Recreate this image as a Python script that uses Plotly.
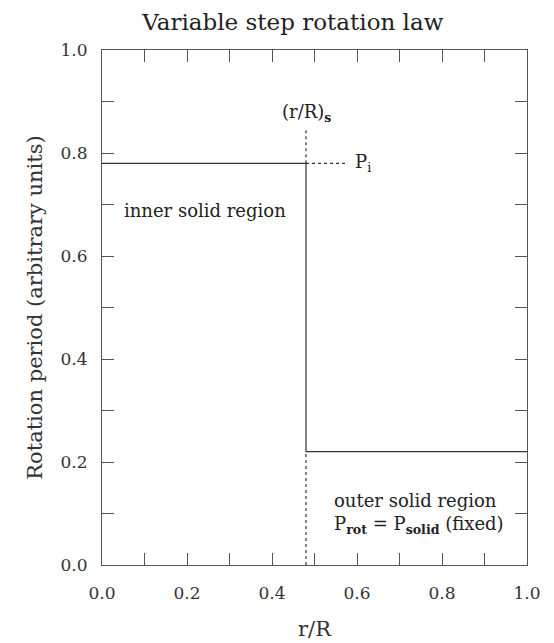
import plotly.graph_objects as go

# data
step_r = [0.0, 0.48, 0.48, 1.0]
step_period = [0.78, 0.78, 0.22, 0.22]
r_s = 0.48
p_inner = 0.78
p_outer = 0.22
guide_top = 0.85
pi_guide_end = 0.575
tick_vals = [round(i * 0.1, 1) for i in range(11)]
tick_text = ["0.0", "", "0.2", "", "0.4", "", "0.6", "", "0.8", "", "1.0"]

FONT = "DejaVu Serif"
LINE = "#333333"
FRAME = "#555555"

fig = go.Figure()
fig.add_trace(go.Scatter(x=step_r, y=step_period, mode="lines",
                         line=dict(color=LINE, width=1.2), showlegend=False, hoverinfo="skip"))
# dotted guides
fig.add_trace(go.Scatter(x=[r_s, r_s], y=[0.0, p_outer], mode="lines",
                         line=dict(color=LINE, width=1.2, dash="dot"), showlegend=False))
fig.add_trace(go.Scatter(x=[r_s, r_s], y=[p_inner, guide_top], mode="lines",
                         line=dict(color=LINE, width=1.2, dash="dot"), showlegend=False))
fig.add_trace(go.Scatter(x=[r_s, pi_guide_end], y=[p_inner, p_inner], mode="lines",
                         line=dict(color=LINE, width=1.2, dash="dot"), showlegend=False))

ann_font = dict(family=FONT, size=18, color="#222222")
fig.add_annotation(x=r_s, y=guide_top, text="(r/R)<sub><b>s</b></sub>", showarrow=False,
                   xanchor="center", yanchor="bottom", font=ann_font)
fig.add_annotation(x=pi_guide_end + 0.015, y=p_inner, text="P<sub>i</sub>", showarrow=False,
                   xanchor="left", yanchor="middle", font=ann_font)
fig.add_annotation(x=0.047, y=0.689, text="inner solid region", showarrow=False,
                   xanchor="left", yanchor="middle", font=ann_font)
fig.add_annotation(x=0.541, y=0.126, text="outer solid region", showarrow=False,
                   xanchor="left", yanchor="middle", font=ann_font)
fig.add_annotation(x=0.541, y=0.078, text="P<sub><b>rot</b></sub> = P<sub><b>solid</b></sub> (fixed)",
                   showarrow=False, xanchor="left", yanchor="middle", font=ann_font)

axis_common = dict(
    range=[0, 1], tickmode="array", tickvals=tick_vals, ticktext=tick_text,
    ticks="inside", ticklen=12, tickwidth=1, tickcolor=FRAME,
    showline=True, linecolor=FRAME, linewidth=1.2, mirror="ticks",
    showgrid=False, zeroline=False,
    tickfont=dict(family=FONT, size=17, color="#333333"),
)

fig.update_layout(
    width=554, height=643,
    margin=dict(l=94, r=35, t=42, b=86),
    paper_bgcolor="white", plot_bgcolor="white",
    title=dict(text="Variable step rotation law", xref="paper", x=0.449, xanchor="center",
               yref="container", y=0.979, yanchor="middle",
               font=dict(family=FONT, size=23, color="#222222")),
    xaxis=dict(**axis_common, ticklabelstandoff=12,
               title=dict(text="r/R", font=dict(family=FONT, size=21, color="#333333"), standoff=19)),
    yaxis=dict(**axis_common, ticklabelstandoff=10,
               title=dict(text="Rotation period (arbitrary units)",
                          font=dict(family=FONT, size=21, color="#333333"), standoff=12)),
)

fig.write_html("out.html")
